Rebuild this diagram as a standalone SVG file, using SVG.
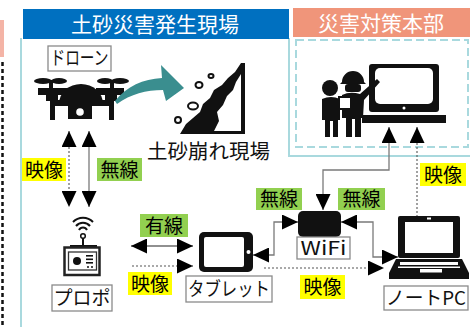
<svg xmlns="http://www.w3.org/2000/svg" width="470" height="327" viewBox="0 0 470 327">
  <style>
    .jp { font-family: "Noto Sans CJK JP", "Noto Sans", sans-serif; }
    .title { font-size: 21px; fill: #ffffff; text-anchor: middle; }
    .tag { font-size: 19px; fill: #000000; text-anchor: middle; }
    .name { font-size: 19px; fill: #111111; text-anchor: middle; }
    .namebox { fill: #ffffff; stroke: #8a8a8a; stroke-width: 1.3; }
    .yel { fill: #ffff00; }
    .grn { fill: #92d050; }
    .solid { fill: none; stroke: #7a7a7a; stroke-width: 1.3; }
    .black { fill: none; stroke: #222222; stroke-width: 1.1; }
    .dot { fill: none; stroke: #555555; stroke-width: 1.1; stroke-dasharray: 2 2; }
    .ink { fill: #111111; }
    .paper { fill: #ffffff; }
    .rock { fill: #ffffff; stroke: #111111; stroke-width: 2; }
  </style>
  <defs>
    <marker id="ah" markerUnits="userSpaceOnUse" markerWidth="16" markerHeight="15" refX="16" refY="7.5" orient="auto-start-reverse">
      <path d="M0,0 L16,7.5 L0,15 Z" fill="#000000"/>
    </marker>
  </defs>

  <rect width="470" height="327" fill="#ffffff"/>

  <!-- edge of the neighbouring panel -->
  <rect x="0" y="20" width="4" height="37" fill="#f4b4a6"/>
  <line x1="2.5" y1="62" x2="2.5" y2="327" stroke="#111111" stroke-width="2.5" stroke-dasharray="4 3"/>

  <!-- site area frame -->
  <g id="site-area">
    <path d="M21,38 V327 M289,38 V156 H470" fill="none" stroke="#a9d9de" stroke-width="2"/>
    <rect x="23" y="9" width="266" height="30" fill="#0070c0"/>
    <text class="jp title" x="155" y="32">土砂災害発生現場</text>
  </g>

  <!-- headquarters area -->
  <g id="hq-area">
    <rect x="296" y="40" width="172" height="107" fill="none" stroke="#a9d9de" stroke-width="2" stroke-dasharray="8 4"/>
    <rect x="293" y="8" width="177" height="29" fill="#f0957a"/>
    <text class="jp title" x="381" y="31">災害対策本部</text>
  </g>

  <!-- drone -->
  <g id="drone">
    <rect class="namebox" x="48" y="46" width="63" height="25"/>
    <text class="jp name" x="79.5" y="65" font-size="18" textLength="58" lengthAdjust="spacingAndGlyphs">ドローン</text>
    <ellipse class="ink" cx="43" cy="81" rx="9" ry="3"/>
    <ellipse class="ink" cx="59" cy="81" rx="8" ry="3"/>
    <ellipse class="ink" cx="105" cy="81" rx="8" ry="3"/>
    <ellipse class="ink" cx="120" cy="81" rx="9" ry="3"/>
    <rect class="ink" x="49" y="80" width="4" height="12"/>
    <rect class="ink" x="110" y="80" width="4" height="12"/>
    <path class="ink" d="M38,88 H68 V95 H58 V101 H46 V95 H38 Z"/>
    <path class="ink" d="M96,88 H124 V95 H117 V101 H105 V95 H96 Z"/>
    <path class="ink" d="M59,104 A22,20 0 0 1 103,104 Z"/>
    <rect class="ink" x="50" y="100" width="64" height="6"/>
    <rect class="ink" x="50" y="100" width="5" height="20"/>
    <rect class="ink" x="109" y="100" width="5" height="20"/>
    <rect class="ink" x="68" y="103" width="24" height="16"/>
    <circle class="paper" cx="80" cy="112" r="3.8"/>
  </g>

  <!-- drone camera view arrow -->
  <g id="view-arrow">
    <path d="M115,101 C127,86 143,79 162,78 L161,65 L184,88 L166,101 L163,90 C146,90 131,94 117,104 Z" fill="#3a8e8f"/>
  </g>

  <!-- landslide -->
  <g id="landslide">
    <path class="ink" d="M180,134 L186,124 L193,118 L200,112 L203,104 L210,98 L214,90 L222,85 L228,78 L235,72 L241,63 L245,63 L245,134 Z"/>
    <path class="paper" d="M214,131 L219,121 L217,112 L223,105 L227,96 L233,90 L236,82 L241,74 L241,131 Z"/>
    <ellipse class="rock" cx="199" cy="85" rx="3.5" ry="3"/>
    <ellipse class="rock" cx="211" cy="76" rx="2.5" ry="2"/>
    <ellipse class="rock" cx="193" cy="106" rx="5" ry="3.5"/>
    <ellipse class="rock" cx="178" cy="120" rx="3" ry="3"/>
    <text class="jp" x="147" y="159" font-size="20.5" fill="#111111">土砂崩れ現場</text>
  </g>

  <!-- headquarters staff and monitor -->
  <g id="hq-monitor">
    <rect class="ink" x="369" y="64" width="70" height="48" rx="3"/>
    <rect class="paper" x="375" y="68" width="58" height="36" rx="5"/>
    <circle class="paper" cx="404" cy="108" r="1.5"/>
    <rect class="ink" x="362" y="115" width="84" height="8"/>
    <!-- person at the back -->
    <circle class="ink" cx="330" cy="88" r="8"/>
    <path class="ink" d="M322,99 Q331,95 340,99 L340,120 L338,120 L338,137 L333,137 L333,121 L330,121 L330,137 L325,137 L325,120 L322,120 Z"/>
    <!-- person with helmet pointing -->
    <path class="ink" d="M342,82 A11,11 0 0 1 364,82 L366,84 L340,84 Z"/>
    <rect class="ink" x="345" y="84" width="16" height="8" rx="3"/>
    <path class="ink" d="M342,95 Q350,91 360,94 L377,79 L380,82 L364,100 L363,118 L361,118 L361,137 L355,137 L355,119 L352,119 L352,137 L346,137 L346,118 L342,118 Z"/>
    <rect x="339" y="97" width="12" height="12" fill="#ffffff" stroke="#111111" stroke-width="2"/>
  </g>

  <!-- remote controller -->
  <g id="controller">
    <path d="M73,222 A14,14 0 0 1 93,222 M76,226 A9,9 0 0 1 90,226 M79,230 A4.5,4.5 0 0 1 87,230" fill="none" stroke="#111111" stroke-width="2"/>
    <circle cx="83" cy="236" r="2.3" fill="#ffffff" stroke="#111111" stroke-width="1.5"/>
    <rect class="ink" x="82" y="238" width="2" height="8"/>
    <rect class="ink" x="70" y="245" width="27" height="3"/>
    <rect x="64.5" y="247.5" width="35" height="27.5" fill="#ffffff" stroke="#222222" stroke-width="2.5"/>
    <rect x="68.5" y="252" width="28" height="18" fill="none" stroke="#333333" stroke-width="1.3"/>
    <circle class="ink" cx="77" cy="261" r="4"/>
    <rect class="ink" x="86" y="255" width="7" height="1.6"/>
    <rect class="ink" x="86" y="258.5" width="7" height="1.6"/>
    <rect class="ink" x="86" y="262" width="7" height="1.6"/>
    <circle class="ink" cx="88" cy="267" r="1"/>
    <circle class="ink" cx="92" cy="267" r="1"/>
    <rect class="namebox" x="52" y="285" width="60" height="26"/>
    <text class="jp name" x="82" y="305">プロポ</text>
  </g>

  <!-- tablet -->
  <g id="tablet">
    <rect class="ink" x="199" y="232" width="54" height="40" rx="5"/>
    <rect class="paper" x="204" y="237" width="40" height="30" rx="2"/>
    <circle class="paper" cx="248.5" cy="252" r="2"/>
    <rect class="namebox" x="186" y="276" width="86" height="26"/>
    <text class="jp name" x="229" y="296" font-size="19" textLength="82" lengthAdjust="spacingAndGlyphs">タブレット</text>
  </g>

  <!-- wifi router -->
  <g id="wifi">
    <rect class="ink" x="298" y="211" width="43" height="26" rx="5"/>
    <rect class="namebox" x="297" y="237" width="53" height="22"/>
    <text class="jp name" x="323.5" y="255" fill="#222222" textLength="46" lengthAdjust="spacingAndGlyphs">WiFi</text>
  </g>

  <!-- laptop -->
  <g id="laptop">
    <rect class="ink" x="398" y="216" width="62" height="42" rx="2"/>
    <rect class="paper" x="405" y="222" width="48" height="31"/>
    <rect class="paper" x="427" y="217.5" width="4" height="2"/>
    <path class="ink" d="M396,259 H462 L469,273 V279 H389 V273 Z"/>
    <rect class="paper" x="400" y="262" width="58" height="3"/>
    <rect class="paper" x="398" y="266.5" width="62" height="1.5"/>
    <rect class="paper" x="420" y="269" width="22" height="3.5"/>
    <rect class="namebox" x="384" y="286" width="84" height="24"/>
    <text class="jp name" x="426" y="305" font-size="20" textLength="80" lengthAdjust="spacingAndGlyphs">ノートPC</text>
  </g>

  <!-- connectors -->
  <g id="connectors">
    <line class="dot" x1="69" y1="131" x2="69" y2="207" marker-start="url(#ah)" marker-end="url(#ah)"/>
    <line class="solid" x1="89" y1="131" x2="89" y2="207" marker-start="url(#ah)" marker-end="url(#ah)"/>
    <line class="black" x1="131" y1="246" x2="193" y2="246" marker-start="url(#ah)" marker-end="url(#ah)"/>
    <line class="dot" x1="132" y1="266" x2="193" y2="266" marker-end="url(#ah)"/>
    <polyline class="solid" points="253,255 274,255 274,222 298,222" marker-start="url(#ah)" marker-end="url(#ah)"/>
    <polyline class="solid" points="341,222 373,222 373,257 398,257" marker-start="url(#ah)" marker-end="url(#ah)"/>
    <line class="dot" x1="264" y1="268" x2="384" y2="268" marker-end="url(#ah)"/>
    <polyline class="solid" points="389,127 389,170 323,170 323,210" marker-start="url(#ah)" marker-end="url(#ah)"/>
    <line class="dot" x1="417" y1="127" x2="417" y2="216" marker-start="url(#ah)"/>
  </g>

  <!-- connector labels -->
  <g id="labels">
    <rect class="yel" x="22" y="158" width="44" height="23"/>
    <text class="jp tag" x="44" y="177">映像</text>
    <rect class="grn" x="97" y="158" width="45" height="23"/>
    <text class="jp tag" x="119.5" y="177">無線</text>
    <rect class="grn" x="140" y="214" width="48" height="23"/>
    <text class="jp tag" x="164" y="233">有線</text>
    <rect class="yel" x="128" y="272" width="44" height="23"/>
    <text class="jp tag" x="150" y="291">映像</text>
    <rect class="grn" x="256" y="188" width="46" height="22"/>
    <text class="jp tag" x="279" y="206">無線</text>
    <rect class="grn" x="338" y="188" width="47" height="22"/>
    <text class="jp tag" x="361.5" y="206">無線</text>
    <rect class="yel" x="420" y="163" width="46" height="23"/>
    <text class="jp tag" x="443" y="182">映像</text>
    <rect class="yel" x="300" y="275" width="45" height="24"/>
    <text class="jp tag" x="322.5" y="294">映像</text>
  </g>
</svg>
